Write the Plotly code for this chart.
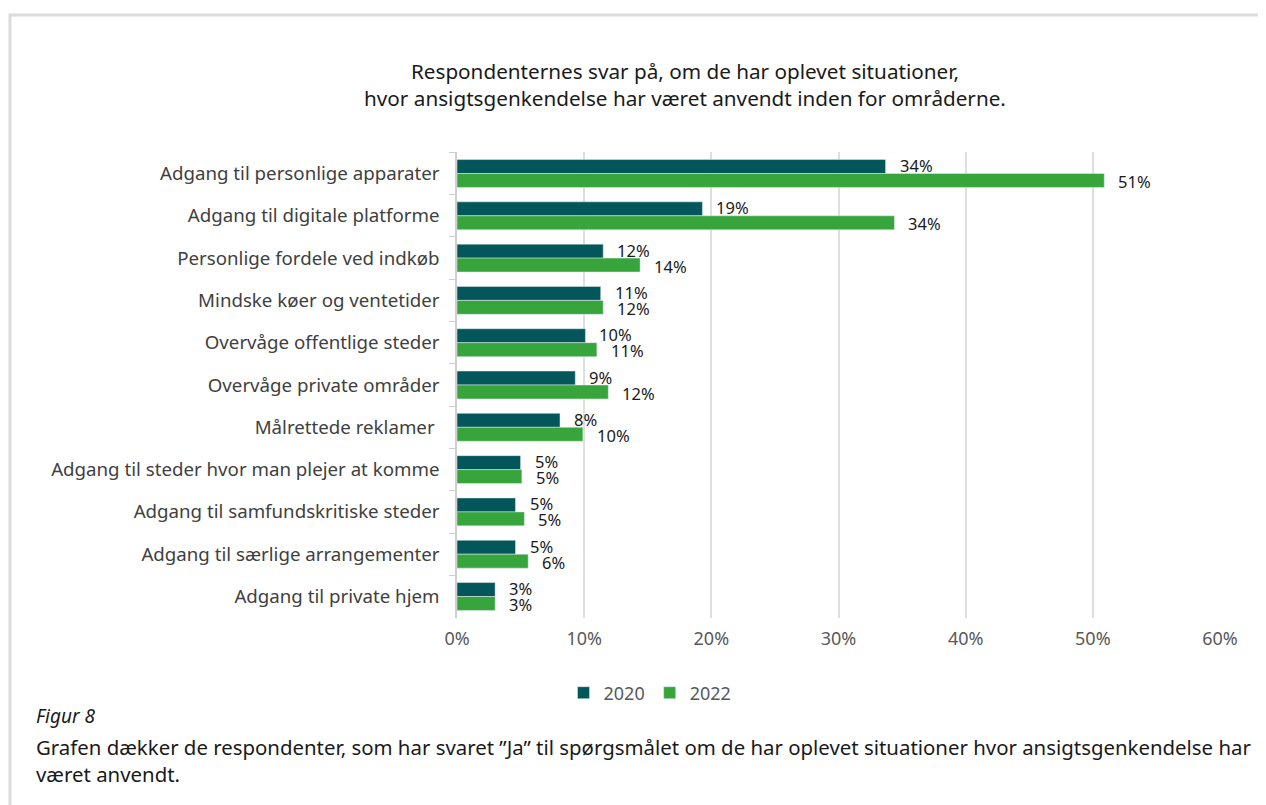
import plotly.graph_objects as go

categories = [
    "Adgang til personlige apparater",
    "Adgang til digitale platforme",
    "Personlige fordele ved indkøb",
    "Mindske køer og ventetider",
    "Overvåge offentlige steder",
    "Overvåge private områder",
    "Målrettede reklamer ",
    "Adgang til steder hvor man plejer at komme",
    "Adgang til samfundskritiske steder",
    "Adgang til særlige arrangementer",
    "Adgang til private hjem",
]
values_2020 = [0.337, 0.193, 0.115, 0.113, 0.101, 0.093, 0.081, 0.050, 0.046, 0.046, 0.030]
values_2022 = [0.509, 0.344, 0.144, 0.115, 0.110, 0.119, 0.099, 0.051, 0.053, 0.056, 0.030]
labels_2020 = ["34%", "19%", "12%", "11%", "10%", "9%", "8%", "5%", "5%", "5%", "3%"]
labels_2022 = ["51%", "34%", "14%", "12%", "11%", "12%", "10%", "5%", "5%", "6%", "3%"]
tick_vals = [0, 0.1, 0.2, 0.3, 0.4, 0.5, 0.6]
tick_text = ["0%", "10%", "20%", "30%", "40%", "50%", "60%"]

C2020 = "#03575A"
C2022 = "#37A53C"
FONT = "Noto Sans"

OFF = 8  # page body margin
W, H = 1266 - OFF, 805 - OFF
# plot area in reference page pixels
L, R, T, B = 457, 1220, 152, 618
pw, ph = R - L, B - T

def px_x(x):
    return (x - L) / pw

def px_y(y):
    return (B - y) / ph

fig = go.Figure()
fig.add_trace(go.Bar(y=categories, x=values_2020, orientation="h", name="2020",
                     marker=dict(color=C2020), hoverinfo="x"))
fig.add_trace(go.Bar(y=categories, x=values_2022, orientation="h", name="2022",
                     marker=dict(color=C2022), hoverinfo="x"))

annotations = []
for c, v, t in zip(categories, values_2020, labels_2020):
    annotations.append(dict(x=v, y=c, xref="x", yref="y", text=t, showarrow=False,
                            xanchor="left", yanchor="middle", xshift=12, yshift=8,
                            font=dict(family=FONT, size=16.5, color="#1a1a1a")))
for c, v, t in zip(categories, values_2022, labels_2022):
    annotations.append(dict(x=v, y=c, xref="x", yref="y", text=t, showarrow=False,
                            xanchor="left", yanchor="middle", xshift=12, yshift=-8,
                            font=dict(family=FONT, size=16.5, color="#1a1a1a")))

annotations.append(dict(x=px_x(34), y=px_y(716), xref="paper", yref="paper",
                        text="<i>Figur 8</i>", showarrow=False, xanchor="left", yanchor="middle",
                        font=dict(family=FONT, size=19, color="#1a1a1a")))
annotations.append(dict(x=px_x(34), y=px_y(760), xref="paper", yref="paper",
                        text="Grafen dækker de respondenter, som har svaret ”Ja” til spørgsmålet om de har oplevet situationer hvor ansigtsgenkendelse har<br>været anvendt.",
                        showarrow=False, xanchor="left", yanchor="middle", align="left",
                        font=dict(family=FONT, size=20.4, color="#1a1a1a")))

fig.update_layout(
    width=W, height=H,
    margin=dict(l=L - OFF, r=W - (R - OFF), t=T - OFF, b=H - (B - OFF), autoexpand=False),
    paper_bgcolor="white", plot_bgcolor="white",
    barmode="group", bargap=0.34, bargroupgap=0,
    title=dict(text="Respondenternes svar på, om de har oplevet situationer,<br>hvor ansigtsgenkendelse har været anvendt inden for områderne.",
               x=(685 - OFF) / W, xref="container", xanchor="center",
               y=1 - (79 - OFF) / H, yref="container", yanchor="middle",
               font=dict(family=FONT, size=20.7, color="#1a1a1a")),
    xaxis=dict(range=[0, 0.6], tickvals=tick_vals, ticktext=tick_text,
               showgrid=True, gridcolor="#dedede", gridwidth=1.5, zeroline=False,
               showline=False, ticks="", ticklabelstandoff=8,
               tickfont=dict(family=FONT, size=18, color="#595959")),
    yaxis=dict(autorange="reversed", showline=True, linecolor="#cfcfcf", linewidth=1.5,
               ticks="outside", tickson="boundaries", ticklen=6, tickcolor="#cfcfcf",
               ticklabelstandoff=12,
               tickfont=dict(family=FONT, size=18.7, color="#404040")),
    legend=dict(orientation="h", x=px_x(650), xanchor="center", y=px_y(693), yanchor="middle",
                font=dict(family=FONT, size=18, color="#595959"), traceorder="normal",
                itemwidth=30),
    annotations=annotations,
    shapes=[dict(type="rect", xref="paper", yref="paper",
                 x0=px_x(10), y0=px_y(900), x1=px_x(1400), y1=px_y(15),
                 line=dict(color="#dcdce0", width=3), fillcolor="rgba(0,0,0,0)", layer="below")],
)

fig.write_html("out.html")
